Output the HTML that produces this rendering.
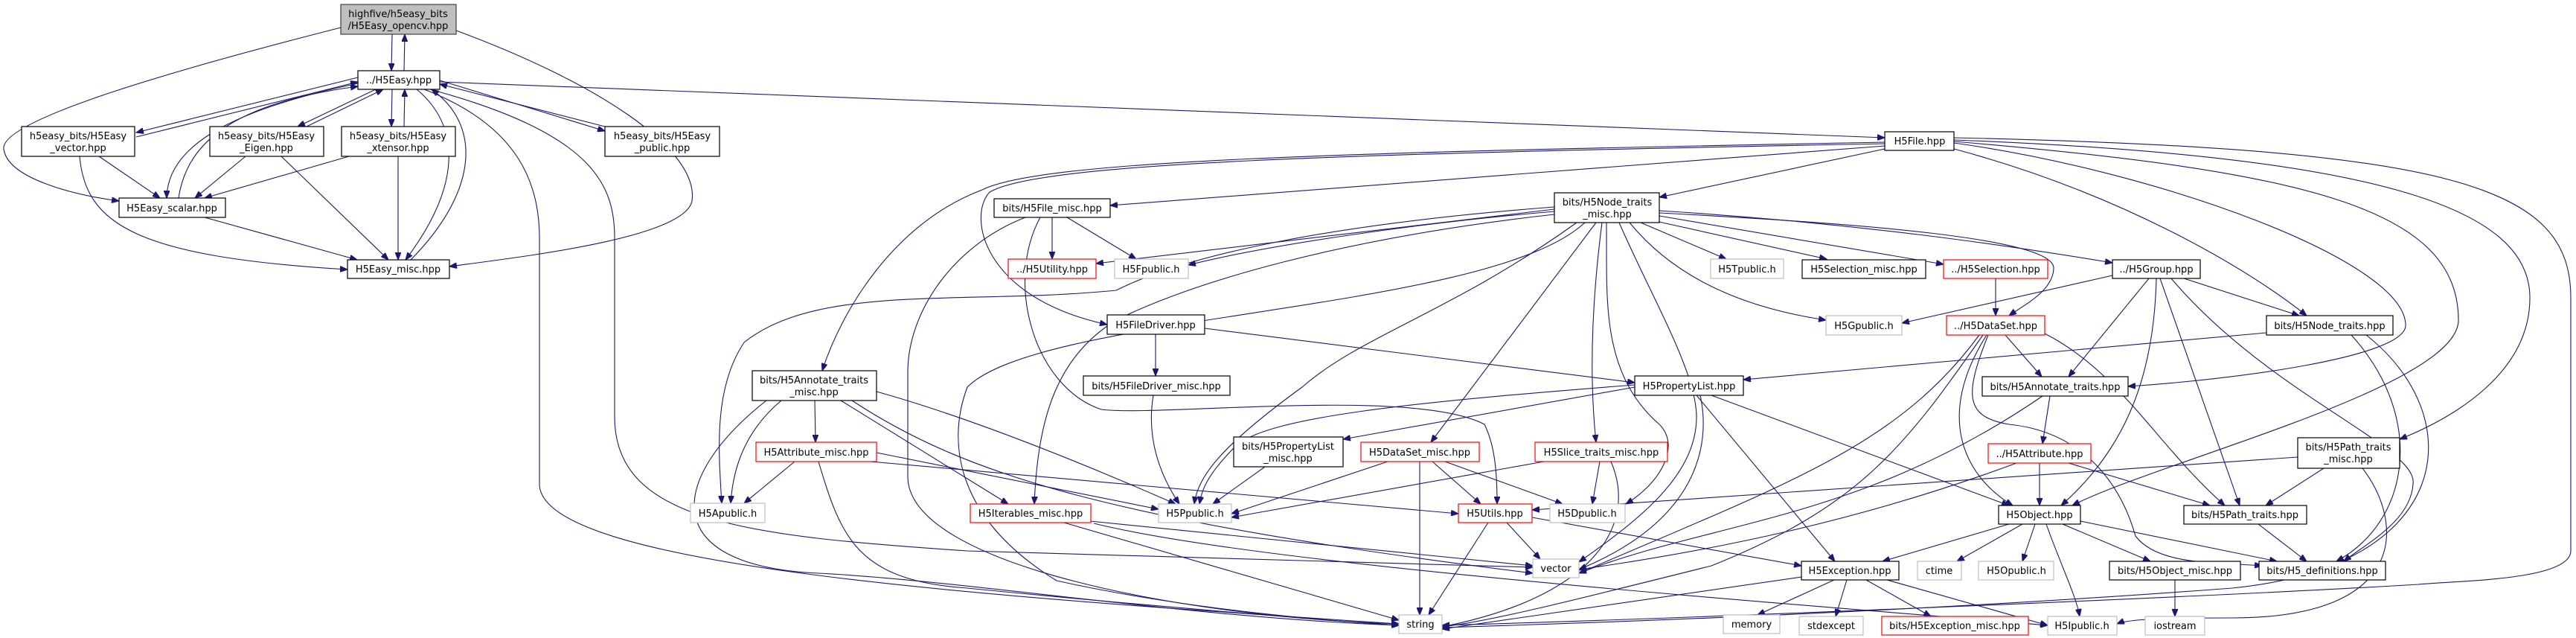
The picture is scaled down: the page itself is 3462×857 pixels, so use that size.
<!DOCTYPE html>
<html><head><meta charset="utf-8"><style>
html,body{margin:0;padding:0;background:#fff;}
svg{display:block;}
text{font-family:"DejaVu Sans","Liberation Sans",sans-serif;font-size:13px;fill:#000;text-anchor:middle;}
.n{fill:#fff;stroke:#000;stroke-width:1.2;}
.g{fill:#fff;stroke:#bfbfbf;stroke-width:1.2;}
.r{fill:#fff;stroke:#ff0000;stroke-width:1.2;}
.e path{fill:none;stroke:#191970;stroke-width:1.1;marker-end:url(#a);}
</style></head><body>
<svg width="3462" height="857" viewBox="0 0 3462 857" xmlns="http://www.w3.org/2000/svg">
<defs><marker id="a" markerUnits="userSpaceOnUse" markerWidth="11" markerHeight="8" refX="10" refY="4" orient="auto"><path d="M0,0 L10,4 L0,8 z" fill="#191970" stroke="#191970"/></marker></defs>
<g class="e">
<path d="M527 46 L526 95"/>
<path d="M543 95 L544 46"/>
<path d="M458 37 C250 90,0 160,5 200 C10 240,100 262,160 270"/>
<path d="M613 41 C800 110,940 200,930 270 C920 320,700 345,604 358"/>
<path d="M481 104 L183 178"/>
<path d="M183 184 L481 110"/>
<path d="M505 120 L400 170"/>
<path d="M412 170 L515 120"/>
<path d="M527 120 L526 170"/>
<path d="M543 170 L544 120"/>
<path d="M591 108 L813 176"/>
<path d="M813 170 L591 113"/>
<path d="M481 112 C300 150,225 200,224 266"/>
<path d="M240 266 C250 200,300 140,481 116"/>
<path d="M560 120 C620 170,620 250,545 349"/>
<path d="M552 349 C640 260,650 170,580 120"/>
<path d="M591 110 L2533 185"/>
<path d="M578 120 C800 180,826 250,826 320 L826 560 C826 700,1000 720,1300 740 L2060 762"/>
<path d="M570 120 C700 170,725 250,725 320 L725 650 C725 760,1300 800,1880 838"/>
<path d="M133 210 L215 266"/>
<path d="M107 210 C115 300,180 345,467 362"/>
<path d="M330 210 L262 266"/>
<path d="M378 210 L522 349"/>
<path d="M469 210 L275 266"/>
<path d="M535 210 L535 349"/>
<path d="M275 292 L480 349"/>
<path d="M2533 196 L1492 276"/>
<path d="M2533 200 L2230 265"/>
<path d="M2533 191 C1800 205,1400 215,1320 255 C1200 300,1130 420,1105 498"/>
<path d="M2533 193 C1800 207,1400 218,1330 258 C1300 290,1320 400,1488 436"/>
<path d="M2626 192 C2900 230,3233 350,3233 437 C3233 480,3000 510,2860 519"/>
<path d="M2626 190 C3100 230,3304 280,3304 430 C3304 520,2900 620,2785 679"/>
<path d="M2626 188 C3200 210,3400 280,3400 400 C3400 500,3300 560,3225 590"/>
<path d="M2626 200 C2850 260,3020 360,3100 424"/>
<path d="M2626 185 C3300 200,3455 250,3455 400 L3455 740 C3455 780,3300 780,3250 785 C3000 800,2300 830,1938 840"/>
<path d="M1414 292 L1414 348"/>
<path d="M1434 292 L1527 348"/>
<path d="M1378 292 C1280 330,1220 420,1220 500 L1220 640 C1220 760,1600 830,1880 838"/>
<path d="M1398 292 C1350 380,1390 520,1480 550 C1560 560,1900 520,1995 570 C2010 600,2012 640,2012 677"/>
<path d="M2089 281 L1473 354"/>
<path d="M2089 284 C1900 300,1700 330,1597 356"/>
<path d="M2205 299 L2320 348"/>
<path d="M2225 297 L2455 348"/>
<path d="M2230 290 L2612 355"/>
<path d="M2230 283 C2500 300,2700 330,2839 353"/>
<path d="M2190 299 C2240 360,2320 410,2454 430"/>
<path d="M2230 286 C2500 300,2760 320,2760 360 C2760 390,2720 410,2700 424"/>
<path d="M2145 299 L1923 594"/>
<path d="M2153 299 C2140 400,2135 500,2145 594"/>
<path d="M2159 299 C2160 400,2150 500,2230 570 C2260 600,2230 650,2185 677"/>
<path d="M2176 299 C2220 400,2280 500,2280 560 C2280 640,2200 700,2122 755"/>
<path d="M2089 278 C1800 300,1600 340,1500 390 C1300 410,1100 380,1000 460 C960 520,965 600,970 676"/>
<path d="M2089 288 C1800 320,1600 380,1500 430 C1420 480,1395 560,1390 677"/>
<path d="M2130 299 C2000 420,1400 420,1300 520 C1270 600,1290 700,1420 780 C1600 820,1800 835,1880 840"/>
<path d="M2119 299 C1950 420,1830 450,1750 520 C1640 600,1610 640,1605 677"/>
<path d="M1553 449 L1553 505"/>
<path d="M1619 441 L2197 514"/>
<path d="M1550 531 C1540 590,1560 640,1585 677"/>
<path d="M2197 520 L1805 590"/>
<path d="M2197 517 C1900 540,1700 560,1660 600 C1620 640,1615 660,1612 677"/>
<path d="M2285 531 C2300 600,2280 700,2122 765"/>
<path d="M2280 531 L2466 754"/>
<path d="M2300 531 L2700 679"/>
<path d="M1700 627 L1630 677"/>
<path d="M1865 620 L1655 690"/>
<path d="M1925 620 L1990 677"/>
<path d="M1942 620 L2100 677"/>
<path d="M1908 620 L1908 826"/>
<path d="M2075 620 L1655 695"/>
<path d="M2150 620 L2140 677"/>
<path d="M2165 620 C2200 700,2150 800,1938 842"/>
<path d="M1465 700 L2060 760"/>
<path d="M1430 702 L1880 833"/>
<path d="M1470 703 C1700 760,2400 810,2752 840"/>
<path d="M2025 702 L2070 751"/>
<path d="M2000 702 L1920 826"/>
<path d="M2059 695 L2421 760"/>
<path d="M1050 538 C1000 580,985 630,982 676"/>
<path d="M1030 538 C900 640,880 760,1100 770 C1300 780,1600 830,1880 840"/>
<path d="M1095 538 L1096 594"/>
<path d="M1130 538 L1355 677"/>
<path d="M1178 526 C1300 560,1450 620,1580 677"/>
<path d="M1145 538 C1300 640,1500 700,2060 770"/>
<path d="M1068 620 L1000 676"/>
<path d="M1100 620 C1130 720,1150 780,1300 790 C1500 810,1800 835,1880 840"/>
<path d="M1178 608 L1557 684"/>
<path d="M1170 620 L1960 690"/>
<path d="M2839 370 L2556 434"/>
<path d="M2935 374 L3090 424"/>
<path d="M2888 374 L2780 506"/>
<path d="M2898 374 C2895 500,2860 600,2770 679"/>
<path d="M2903 374 L3010 679"/>
<path d="M2918 374 C3050 530,3250 600,3243 650 C3240 700,3180 730,3150 754"/>
<path d="M2682 374 L2682 424"/>
<path d="M2695 450 L2744 506"/>
<path d="M2670 450 C2600 560,2640 640,2705 679"/>
<path d="M2748 448 C2850 500,2900 600,2990 679"/>
<path d="M2672 450 C2640 530,2640 560,2700 570 C2800 580,2850 650,2870 720 C2900 760,2980 755,3040 760"/>
<path d="M2660 450 C2550 600,2400 650,2122 770"/>
<path d="M2665 450 C2560 600,2500 680,2300 760 C2100 810,2000 835,1938 842"/>
<path d="M3046 447 L2343 510"/>
<path d="M3160 450 C3260 560,3240 700,3140 754"/>
<path d="M3180 450 C3320 560,3300 760,3000 790 C2600 820,2200 835,1938 843"/>
<path d="M2755 532 L2745 596"/>
<path d="M2745 532 C2500 700,2300 700,2122 770"/>
<path d="M2741 622 L2741 679"/>
<path d="M2780 622 L2970 679"/>
<path d="M2710 622 C2500 700,2300 740,2122 765"/>
<path d="M3123 629 L3045 679"/>
<path d="M3088 614 L2059 685"/>
<path d="M3175 629 C3230 700,3240 830,3000 830 C2900 830,2860 832,2845 838"/>
<path d="M3035 704 L3100 754"/>
<path d="M2700 704 L2530 754"/>
<path d="M2718 704 L2630 754"/>
<path d="M2735 704 L2718 754"/>
<path d="M2772 704 L2890 754"/>
<path d="M2796 700 L3060 754"/>
<path d="M2750 704 C2770 760,2790 800,2795 828"/>
<path d="M2923 779 L2923 828"/>
<path d="M2465 779 L2362 826"/>
<path d="M2482 779 L2467 828"/>
<path d="M2508 779 L2595 828"/>
<path d="M2536 779 L2752 840"/>
<path d="M2421 775 L1938 845"/>
</g>
<g>
<rect x="458" y="6" width="155" height="40" fill="#bfbfbf" stroke="#404040" stroke-width="1.2"/>
<text x="535" y="23">highfive/h5easy_bits</text><text x="535" y="39">/H5Easy_opencv.hpp</text>
<rect class="n" x="481" y="95" width="110" height="25"/><text x="536" y="112">../H5Easy.hpp</text>
<rect class="n" x="29" y="170" width="152" height="40"/><text x="105" y="187">h5easy_bits/H5Easy</text><text x="105" y="203">_vector.hpp</text>
<rect class="n" x="282" y="170" width="153" height="40"/><text x="358" y="187">h5easy_bits/H5Easy</text><text x="358" y="203">_Eigen.hpp</text>
<rect class="n" x="459" y="170" width="153" height="40"/><text x="535" y="187">h5easy_bits/H5Easy</text><text x="535" y="203">_xtensor.hpp</text>
<rect class="n" x="813" y="170" width="154" height="40"/><text x="890" y="187">h5easy_bits/H5Easy</text><text x="890" y="203">_public.hpp</text>
<rect class="n" x="160" y="266" width="143" height="26"/><text x="231" y="284">H5Easy_scalar.hpp</text>
<rect class="n" x="467" y="349" width="137" height="25"/><text x="535" y="366">H5Easy_misc.hpp</text>
<rect class="n" x="2533" y="177" width="93" height="25"/><text x="2580" y="194">H5File.hpp</text>
<rect class="n" x="1336" y="267" width="156" height="25"/><text x="1414" y="284">bits/H5File_misc.hpp</text>
<rect class="n" x="2089" y="259" width="141" height="40"/><text x="2160" y="276">bits/H5Node_traits</text><text x="2160" y="292">_misc.hpp</text>
<rect class="r" x="1355" y="348" width="118" height="26"/><text x="1414" y="366">../H5Utility.hpp</text>
<rect class="g" x="1498" y="348" width="99" height="26"/><text x="1547" y="366">H5Fpublic.h</text>
<rect class="g" x="2299" y="348" width="98" height="26"/><text x="2348" y="366">H5Tpublic.h</text>
<rect class="n" x="2422" y="349" width="166" height="25"/><text x="2505" y="366">H5Selection_misc.hpp</text>
<rect class="r" x="2612" y="349" width="140" height="25"/><text x="2682" y="366">../H5Selection.hpp</text>
<rect class="n" x="2839" y="349" width="118" height="25"/><text x="2898" y="366">../H5Group.hpp</text>
<rect class="n" x="1488" y="423" width="131" height="26"/><text x="1553" y="441">H5FileDriver.hpp</text>
<rect class="g" x="2454" y="424" width="102" height="26"/><text x="2505" y="442">H5Gpublic.h</text>
<rect class="r" x="2616" y="424" width="132" height="26"/><text x="2682" y="442">../H5DataSet.hpp</text>
<rect class="n" x="3046" y="424" width="170" height="26"/><text x="3131" y="442">bits/H5Node_traits.hpp</text>
<rect class="n" x="1011" y="498" width="167" height="40"/><text x="1094" y="515">bits/H5Annotate_traits</text><text x="1094" y="531">_misc.hpp</text>
<rect class="n" x="1456" y="505" width="197" height="26"/><text x="1554" y="523">bits/H5FileDriver_misc.hpp</text>
<rect class="n" x="2197" y="505" width="146" height="26"/><text x="2270" y="523">H5PropertyList.hpp</text>
<rect class="n" x="2664" y="506" width="196" height="26"/><text x="2762" y="524">bits/H5Annotate_traits.hpp</text>
<rect class="n" x="1658" y="587" width="147" height="40"/><text x="1731" y="604">bits/H5PropertyList</text><text x="1731" y="620">_misc.hpp</text>
<rect class="r" x="1016" y="594" width="162" height="26"/><text x="1097" y="612">H5Attribute_misc.hpp</text>
<rect class="r" x="1829" y="594" width="159" height="26"/><text x="1908" y="612">H5DataSet_misc.hpp</text>
<rect class="r" x="2063" y="594" width="178" height="26"/><text x="2152" y="612">H5Slice_traits_misc.hpp</text>
<rect class="r" x="2672" y="596" width="138" height="26"/><text x="2741" y="614">../H5Attribute.hpp</text>
<rect class="n" x="3088" y="588" width="137" height="41"/><text x="3156" y="605">bits/H5Path_traits</text><text x="3156" y="621">_misc.hpp</text>
<rect class="g" x="928" y="676" width="100" height="26"/><text x="978" y="694">H5Apublic.h</text>
<rect class="r" x="1304" y="677" width="162" height="25"/><text x="1385" y="694">H5Iterables_misc.hpp</text>
<rect class="g" x="1557" y="677" width="98" height="25"/><text x="1606" y="694">H5Ppublic.h</text>
<rect class="r" x="1960" y="677" width="99" height="25"/><text x="2009" y="694">H5Utils.hpp</text>
<rect class="g" x="2083" y="677" width="101" height="25"/><text x="2133" y="694">H5Dpublic.h</text>
<rect class="n" x="2686" y="679" width="110" height="25"/><text x="2741" y="696">H5Object.hpp</text>
<rect class="n" x="2935" y="679" width="165" height="25"/><text x="3017" y="696">bits/H5Path_traits.hpp</text>
<rect class="g" x="2060" y="751" width="62" height="25"/><text x="2091" y="768">vector</text>
<rect class="n" x="2421" y="754" width="131" height="25"/><text x="2486" y="771">H5Exception.hpp</text>
<rect class="g" x="2577" y="754" width="59" height="25"/><text x="2606" y="771">ctime</text>
<rect class="g" x="2659" y="754" width="101" height="25"/><text x="2710" y="771">H5Opublic.h</text>
<rect class="n" x="2835" y="754" width="176" height="25"/><text x="2923" y="771">bits/H5Object_misc.hpp</text>
<rect class="n" x="3036" y="754" width="170" height="25"/><text x="3121" y="771">bits/H5_definitions.hpp</text>
<rect class="g" x="1880" y="826" width="58" height="25"/><text x="1909" y="843">string</text>
<rect class="g" x="2316" y="826" width="76" height="25"/><text x="2354" y="843">memory</text>
<rect class="g" x="2418" y="828" width="86" height="25"/><text x="2461" y="845">stdexcept</text>
<rect class="r" x="2529" y="828" width="197" height="25"/><text x="2627" y="845">bits/H5Exception_misc.hpp</text>
<rect class="g" x="2752" y="828" width="93" height="25"/><text x="2798" y="845">H5Ipublic.h</text>
<rect class="g" x="2883" y="828" width="80" height="25"/><text x="2923" y="845">iostream</text>
</g>
</svg>
</body></html>
